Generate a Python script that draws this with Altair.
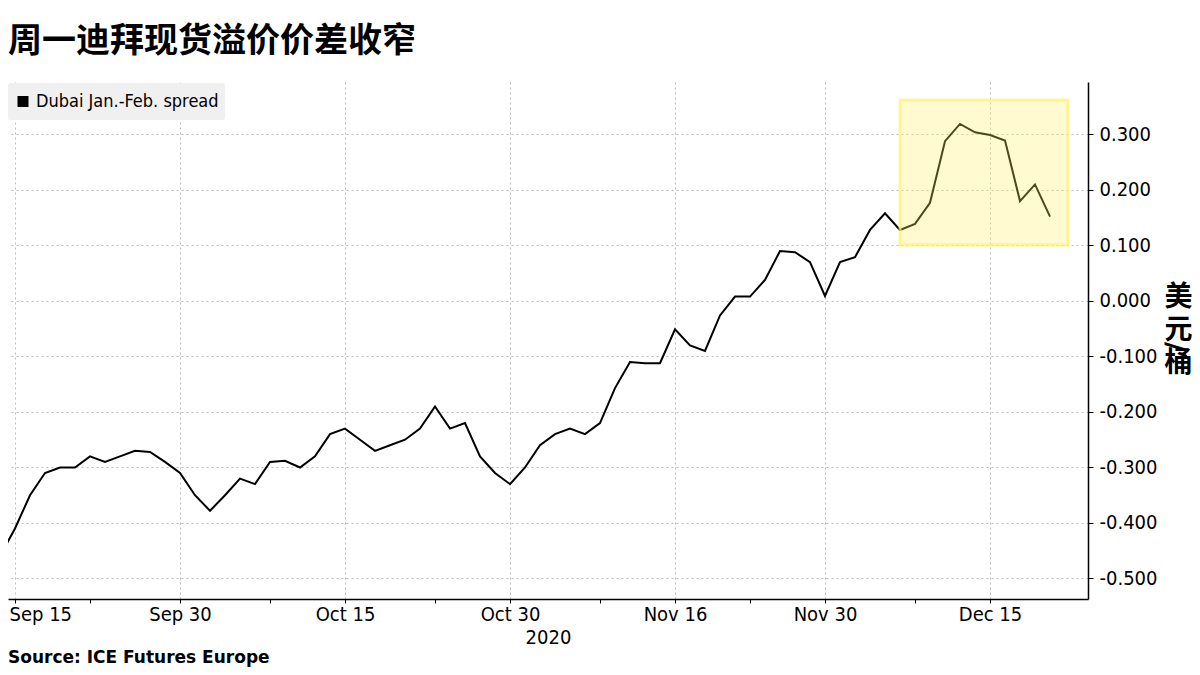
import altair as alt
import pandas as pd

# ---------------- data ----------------
dates = pd.bdate_range("2020-09-14", "2020-12-21").strftime("%Y-%m-%d").tolist()
spread = [-0.46, -0.41, -0.35, -0.31, -0.30, -0.30, -0.28, -0.29, -0.28, -0.27,
          -0.272, -0.29, -0.31, -0.35, -0.378, -0.35, -0.32, -0.33, -0.29, -0.288,
          -0.30, -0.28, -0.24, -0.23, -0.25, -0.27, -0.26, -0.25, -0.23, -0.19,
          -0.23, -0.22, -0.28, -0.31, -0.33, -0.30, -0.26, -0.24, -0.23, -0.24,
          -0.22, -0.157, -0.11, -0.112, -0.112, -0.051, -0.08, -0.09, -0.026, 0.008,
          0.008, 0.038, 0.09, 0.088, 0.07, 0.009, 0.07, 0.079, 0.128, 0.158,
          0.128, 0.139, 0.177, 0.288, 0.319, 0.304, 0.299, 0.289, 0.18, 0.21, 0.152]
series_name = "Dubai Jan.-Feb. spread"

major_dates = ["2020-09-15", "2020-09-30", "2020-10-15", "2020-10-30",
               "2020-11-16", "2020-11-30", "2020-12-15"]
major_labels = ["Sep 15", "Sep 30", "Oct 15", "Oct 30", "Nov 16", "Nov 30", "Dec 15"]
minor_dates = ["2020-09-22", "2020-10-08", "2020-10-23", "2020-11-09",
               "2020-11-23", "2020-12-08"]
y_ticks = [-0.50, -0.45, -0.40, -0.35, -0.30, -0.25, -0.20, -0.15, -0.10, -0.05,
           0.00, 0.05, 0.10, 0.15, 0.20, 0.25, 0.30, 0.35]

title_text = "周一迪拜现货溢价价差收窄"
y_title_chars = ["美", "元", "桶"]
y_title_slash = "/"
x_title = "2020"
source_text = "Source: ICE Futures Europe"

# highlight box (data coordinates: trading-day index / value)
box_start, box_end = "2020-12-07", 71.2
box_low, box_high = 0.101, 0.362

# ---------------- build ----------------
df = pd.DataFrame({"idx": list(range(len(dates))), "date": dates,
                   "value": spread, "series": series_name})

major_idx = [dates.index(d) for d in major_dates]
minor_idx = [dates.index(d) for d in minor_dates]
label_list = "[" + ",".join(f"'{s}'" for s in major_labels) + "]"
idx_list = "[" + ",".join(str(i) for i in major_idx) + "]"

FONT = "DejaVu Sans Condensed, Liberation Sans, sans-serif"
CJK = "Noto Sans CJK SC"
W, H = 1080, 517
x0 = 8 / 15

xscale = alt.Scale(domain=[x0, 72 + x0], nice=False, zero=False)
yscale = alt.Scale(domain=[-0.537, 0.3946], nice=False, zero=False)

first_test = f"datum.value == {major_idx[0]}"
x_axis = alt.Axis(
    values=major_idx + minor_idx,
    labelExpr=f"indexof({idx_list}, datum.value) >= 0 ? {label_list}[indexof({idx_list}, datum.value)] : ''",
    grid=True,
    gridOpacity={"condition": {"test": f"indexof({idx_list}, datum.value) >= 0", "value": 1}, "value": 0},
    gridColor="#bdbdbd", gridDash=[2, 3], gridWidth=1,
    domainColor="black", domainWidth=1.5,
    tickColor="black", tickSize=4, tickWidth=1,
    labelFont=FONT, labelFontSize=20, labelColor="black", labelPadding=1,
    labelAlign={"condition": {"test": first_test, "value": "left"}, "value": "center"},
    labelOffset={"condition": {"test": first_test, "value": -6}, "value": 0},
    labelOverlap=False, labelFlush=False, labelBound=False,
    title=x_title, titleFont=FONT, titleFontSize=20, titleFontWeight="normal",
    titleColor="black", titlePadding=3,
)

mult10 = "abs(round(datum.value*100)) % 10 == 0"
y_axis = alt.Axis(
    orient="right", values=y_ticks,
    labelExpr=f"{mult10} ? replace(format(datum.value, '.3f'), '\u2212', '-') : ''",
    grid=True,
    gridOpacity={"condition": {"test": mult10, "value": 1}, "value": 0},
    gridColor="#bdbdbd", gridDash=[2, 3], gridWidth=1,
    domainColor="black", domainWidth=1.5,
    tickColor="black", tickSize=5, tickWidth=1,
    labelFont=FONT, labelFontSize=20, labelColor="black", labelPadding=6,
    labelOverlap=False, labelFlush=False,
    title=y_title_chars, titleAngle=0, titleX=90, titleY=201, titleAlign="center",
    titleBaseline="top", titleFont=CJK, titleFontSize=28,
    titleFontWeight="bold", titleColor="black", titleLineHeight=33,
)

line = alt.Chart(df).mark_line(strokeWidth=2).encode(
    x=alt.X("idx:Q", scale=xscale, axis=x_axis),
    y=alt.Y("value:Q", scale=yscale, axis=y_axis),
    color=alt.Color(
        "series:N", scale=alt.Scale(range=["black"]),
        legend=alt.Legend(
            title=None, orient="none", legendX=0, legendY=1,
            fillColor="#f0f0f0", padding=6, cornerRadius=2, clipHeight=25,
            symbolType="square", symbolSize=121, symbolFillColor="black",
            symbolStrokeColor="black", symbolStrokeWidth=0,
            labelFont=FONT, labelFontSize=18, labelColor="black", labelOffset=4,
            labelLimit=400,
        ),
    ),
)

box_df = pd.DataFrame({"x": [dates.index(box_start)], "x2": [box_end],
                       "y": [box_low], "y2": [box_high]})
box = alt.Chart(box_df).mark_rect(
    fill="#ffef60", fillOpacity=0.3, stroke="#fff06e", strokeOpacity=0.7, strokeWidth=3
).encode(
    x=alt.X("x:Q", scale=xscale), x2="x2:Q",
    y=alt.Y("y:Q", scale=yscale), y2="y2:Q",
)

slash = alt.Chart(pd.DataFrame({"t": [y_title_slash]})).mark_text(
    align="center", baseline="middle", font="DejaVu Sans", fontSize=28,
    fontWeight="bold", color="black", angle=90
).encode(text="t:N", x=alt.value(1167), y=alt.value(265))

source = alt.Chart(pd.DataFrame({"t": [source_text]})).mark_text(
    align="left", baseline="alphabetic", font="DejaVu Sans", fontSize=17,
    fontWeight="bold", color="black"
).encode(text="t:N", x=alt.value(0), y=alt.value(581))

chart = alt.layer(line, box, slash, source).properties(
    width=W, height=H,
    title=alt.TitleParams(title_text, anchor="start", font=CJK,
                          fontSize=34, fontWeight="bold", color="black",
                          offset=23, frame="group"),
    autosize=alt.AutoSizeParams(type="none"),
    padding={"left": 0, "top": 74, "right": 104, "bottom": 68},
).configure_view(strokeWidth=0)

chart.save("out.html", embed_options={"renderer": "svg", "actions": False})
